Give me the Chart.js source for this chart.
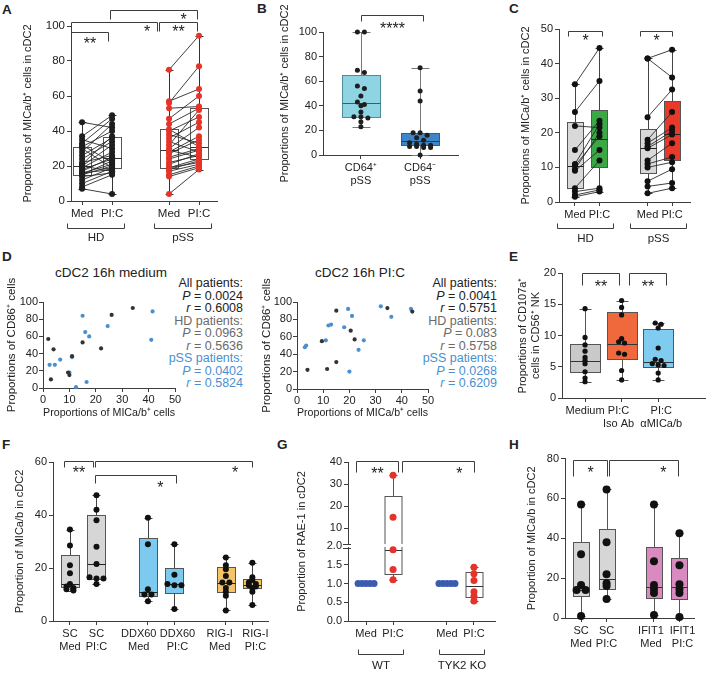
<!DOCTYPE html>
<html>
<head>
<meta charset="utf-8">
<title>MICa/b on cDC2</title>
<script src="https://cdn.jsdelivr.net/npm/chart.js@4.4.1/dist/chart.umd.min.js"></script>
<style>
  body { margin: 0; width: 709px; height: 673px; position: relative; overflow: hidden; background: #fff;
         font-family: 'Liberation Sans', Arial, Helvetica, sans-serif; color: #222; }
  .tag { position: absolute; font-weight: bold; font-size: 13.5px; line-height: 13.5px; }
  .ttl { position: absolute; font-size: 13.5px; line-height: 13.5px; text-align: center; width: 200px; }
  .stats { position: absolute; font-size: 12.5px; line-height: 12.5px; text-align: right; white-space: nowrap; }
  .stats .hd { color: #6a6a6a; }
  .stats .pss { color: #4a90d0; }
</style>
</head>
<body>
<div class="tag" style="left:2px;top:3px">A</div>
<div class="tag" style="left:257px;top:2px">B</div>
<div class="tag" style="left:509px;top:2px">C</div>
<div class="tag" style="left:2px;top:250px">D</div>
<div class="tag" style="left:509px;top:250px">E</div>
<div class="tag" style="left:2px;top:438px">F</div>
<div class="tag" style="left:277px;top:438px">G</div>
<div class="tag" style="left:509px;top:438px">H</div>
<div class="ttl" style="left:11px;top:266px">cDC2 16h medium</div>
<div class="ttl" style="left:260px;top:266px">cDC2 16h PI:C</div>
<div class="stats" id="statsMed" style="right:466px;top:277px"></div>
<div class="stats" id="statsPic" style="right:212px;top:277px"></div>
<script>
const FONT = "'Liberation Sans', Arial, Helvetica, sans-serif";
const AX = '#3d3d3d';
const RED = '#e5332a';

// ---- A: paired Med / PI:C, HD and pSS ----
const catsA = ['Med', 'PI:C', 'Med', 'PI:C'];
const groupsA = ['HD', 'pSS'];
const hdMedA = [45, 37, 35, 33, 32, 31, 30, 28, 26, 24, 22, 21, 20, 20, 19, 18, 17, 16, 16, 15, 15, 14, 12, 10, 8, 7];
const hdPicA = [42, 49, 30, 47, 22, 40, 19, 44, 36, 34, 26, 37, 17, 32, 28, 24, 25, 21, 18, 23, 20, 16, 19, 17, 15, 4];
const pssMedA = [75, 57, 56, 53, 47, 44, 41, 40, 38, 36, 34, 32, 30, 29, 28, 27, 25, 24, 22, 21, 19, 19, 18, 17, 15, 14, 4];
const pssPicA = [94.5, 64, 77, 54, 60, 53, 31, 48, 33, 45, 28, 52, 42, 25, 37, 35, 30, 29, 26, 27, 24, 22, 23, 21, 20, 19, 18];
const boxA = [[7, 15, 20, 31, 45], [4, 19, 24.5, 36.5, 49], [4, 19, 29, 41, 75], [18, 24, 31, 53, 94.5]];

// ---- B: CD64+ vs CD64- ----
const catsB = [['CD64\u207A', 'pSS'], ['CD64\u207B', 'pSS']];
const cd64posB = [100, 100, 69, 67, 56, 54, 48, 43, 41, 40, 35, 31, 30, 31, 27, 23];
const cd64negB = [71, 52, 44, 18, 18, 16, 14, 12, 10, 9, 8, 8, 7, 7, 6, 6, 0];
const boxB = [[23, 31, 42, 65, 100], [0, 8, 11, 18, 71]];

// ---- C: paired, HD and pSS ----
const catsC = ['Med', 'PI:C', 'Med', 'PI:C'];
const groupsC = ['HD', 'pSS'];
const hdMedC = [34, 26, 22, 15, 11, 10.5, 9.5, 9, 4, 3, 2, 1.5];
const hdPicC = [44.5, 35, 21.5, 23.5, 22.5, 19, 20, 15, 12, 4, 3.5, 3];
const pssMedC = [41.5, 41.5, 24.5, 18, 17, 16, 15.5, 12, 11, 10, 6, 4.5, 2.5];
const pssPicC = [36, 44, 32.5, 26, 21.5, 20.5, 19.5, 17, 13, 11.5, 9.5, 5.5, 4];
const boxC = [[1.5, 4, 10.5, 23.2, 34], [3, 10, 18.3, 26.5, 44.5], [2.5, 8.5, 15.5, 21, 41.5], [4, 12, 19.7, 29.3, 44]];

// ---- D: CD86 vs MICa/b scatter ----
const hdMediumD = [[2, 57], [4, 45], [3, 10], [9.5, 18], [10, 15], [11, 37], [15, 53], [22, 46], [26, 85], [34, 93]];
const pssMediumD = [[2.5, 27], [4.5, 27], [6.5, 33], [10, 18], [11, 36], [12.5, 1], [15, 84], [16, 65], [16.5, 7], [17.5, 60], [24.5, 72], [41, 56], [41.5, 89]];
const hdPicD = [[4, 22], [9.5, 55], [11.5, 23], [15, 90], [15, 31], [20.5, 67], [22, 57], [34.5, 93], [44, 89]];
const pssPicD = [[3, 48], [3.5, 50], [11, 56], [12, 73], [13, 74], [18, 71], [19.5, 92], [20, 20], [21, 84], [23.5, 45], [25.5, 56], [32, 95], [36, 83], [43.5, 92]];
const statsMedium = [['All patients:', '0.0024', '0.6008'], ['HD patients:', '0.0963', '0.5636'], ['pSS patients:', '0.0402', '0.5824']];
const statsPIC = [['All patients:', '0.0041', '0.5751'], ['HD patients:', '0.083', '0.5758'], ['pSS patients:', '0.0268', '0.6209']];

// ---- E: CD107a on NK ----
const catsE = ['Medium', ['PI:C', 'Iso Ab'], ['PI:C', '\u03B1MICa/b']];
const mediumE = [14.3, 9.7, 8.5, 7.5, 6.5, 6, 5.5, 4.2, 3.2, 2.6];
const isoE = [15.6, 14.5, 13.3, 9.5, 9, 8.8, 7.2, 7, 4.4, 2.9];
const antiMicaE = [12, 11.8, 11.2, 8, 6.2, 6, 5.5, 5.3, 5.2, 4, 2.9];
const boxE = [[2.6, 4.1, 5.9, 8.6, 14.3], [2.9, 6.2, 8.7, 13.7, 15.6], [2.9, 4.9, 5.8, 11, 12]];

// ---- F: knock-downs ----
const catsF = [['SC', 'Med'], ['SC', 'PI:C'], ['DDX60', 'Med'], ['DDX60', 'PI:C'], ['RIG-I', 'Med'], ['RIG-I', 'PI:C']];
const ptsF = [
  [34.5, 28.5, 21, 18, 14, 13, 12.5, 12, 11.5],
  [47.5, 42, 38, 28, 21.5, 16.5, 16, 16, 14],
  [39, 29, 12, 10, 10, 7.5],
  [29, 17.5, 14, 13.5, 13.5, 4.5],
  [24, 21, 19.5, 17, 14.5, 14.5, 12.5, 11, 9.5, 4],
  [22, 16.5, 15.5, 14.5, 14, 13.5, 13, 12.5, 11, 6]
];
const boxF = [[11.5, 13, 14, 25, 34.5], [14, 16, 21.5, 40, 47.5], [7.5, 9.5, 11, 31.5, 39], [4.5, 10.5, 14, 20, 29], [4, 11, 14.5, 20.5, 24], [6, 12.5, 13.5, 16, 22]];

// ---- G: RAE-1, WT vs TYK2 KO (broken axis) ----
const catsG = ['Med', 'PI:C', 'Med', 'PI:C'];
const groupsG = ['WT', 'TYK2 KO'];
const ptsG = [[1, 1, 1, 1, 1], [34, 15, 1.9, 1.37, 1.1], [1, 1, 1, 1, 1], [1.43, 1.26, 1.08, 0.78, 0.66, 0.53]];
const boxG = [null, [1.1, 1.25, 1.9, 24.5, 34], null, [0.53, 0.65, 0.93, 1.3, 1.43]];
const ticksG = [0, 0.5, 1, 1.5, 2, 10, 20, 30, 40];

// ---- H: IFIT1 ----
const catsH = [['SC', 'Med'], ['SC', 'PI:C'], ['IFIT1', 'Med'], ['IFIT1', 'PI:C']];
const ptsH = [[57, 32, 16.5, 14, 14, 1], [64.5, 38, 22, 17.5, 16, 9.5], [57, 28.5, 16.5, 14.5, 12.5, 1.5], [42.5, 26.5, 17, 14.5, 12.5, 0.5]];
const boxH = [[1, 11, 14, 38, 57], [9.5, 14.5, 19.5, 44.5, 64.5], [1.5, 10, 15.5, 35.5, 57], [0.5, 9.5, 15.5, 30, 42.5]];

Chart.defaults.font.family = FONT;
Chart.defaults.font.size = 11;
Chart.defaults.color = '#222';

class BrokenScale extends Chart.LinearScale {
  getPixelForValue(value) {
    const b = this.options.breakAt, f = this.options.breakFrac;
    const t = value <= b ? (value - this.min) / (b - this.min) * f
                         : f + (value - b) / (this.max - b) * (1 - f);
    return this.getPixelForDecimal(t);
  }
  getValueForPixel(pixel) {
    const b = this.options.breakAt, f = this.options.breakFrac;
    const t = this.getDecimalForPixel(pixel);
    return t <= f ? this.min + t / f * (b - this.min) : b + (t - f) / (1 - f) * (this.max - b);
  }
}
BrokenScale.id = 'broken';
BrokenScale.defaults = Chart.LinearScale.defaults;
Chart.register(BrokenScale);

function mount(rect, pad) {
  const [L, T, R, B] = rect, [pl, pt, pr, pb] = pad;
  const cv = document.createElement('canvas');
  cv.width = R - L + pl + pr;
  cv.height = B - T + pt + pb;
  cv.style.cssText = `position:absolute;left:${L - pl}px;top:${T - pt}px`;
  document.body.appendChild(cv);
  return cv;
}

// spread points with (nearly) equal values side by side, at most maxN in a row
function dodge(vals, tol, step, maxN) {
  const idx = vals.map((v, i) => i).sort((a, b) => vals[b] - vals[a]);
  const off = vals.map(() => 0);
  let g = [idx[0]];
  const flush = () => g.forEach((k, j) => { off[k] = (j - (g.length - 1) / 2) * step; });
  for (let j = 1; j < idx.length; j++) {
    if (vals[g[0]] - vals[idx[j]] < tol && g.length < maxN) g.push(idx[j]);
    else { flush(); g = [idx[j]]; }
  }
  flush();
  return off;
}

// pad a tick label with figure spaces to nudge it sideways (n<0: left, n>0: right)
function nudge(label, n) {
  if (!n) return label;
  const sp = '\u2007'.repeat(Math.abs(n));
  const f = s => (n < 0 ? s + sp : sp + s);
  return Array.isArray(label) ? label.map(f) : f(label);
}

const px = v => Math.round(v) + 0.5;

function panelPlugin(c) {
  return {
    id: 'panel',
    beforeDatasetsDraw(chart) {
      const {ctx} = chart, xs = chart.scales.x, ys = chart.scales.y;
      c.boxes.forEach((b, i) => {
        if (!b) return;
        const cx = px(xs.getPixelForValue(c.pos[i]));
        const [pMin, pQ1, pMed, pQ3, pMax] = b.map(v => px(ys.getPixelForValue(v)));
        const hw = c.boxW / 2, hc = c.capW / 2;
        ctx.save();
        ctx.lineWidth = 1;
        ctx.strokeStyle = c.whisker;
        ctx.beginPath();
        ctx.moveTo(cx, pMin); ctx.lineTo(cx, pQ1);
        ctx.moveTo(cx, pQ3); ctx.lineTo(cx, pMax);
        ctx.moveTo(cx - hc, pMin); ctx.lineTo(cx + hc, pMin);
        ctx.moveTo(cx - hc, pMax); ctx.lineTo(cx + hc, pMax);
        ctx.stroke();
        ctx.fillStyle = c.fills[i];
        ctx.fillRect(cx - hw, pQ3, 2 * hw, pQ1 - pQ3);
        ctx.strokeStyle = Array.isArray(c.borders) ? c.borders[i] : c.borders;
        ctx.strokeRect(cx - hw, pQ3, 2 * hw, pQ1 - pQ3);
        ctx.strokeStyle = Array.isArray(c.median) ? c.median[i] : c.median;
        ctx.beginPath(); ctx.moveTo(cx - hw, pMed); ctx.lineTo(cx + hw, pMed); ctx.stroke();
        if (c.breakAt != null && b[1] < c.breakAt && b[3] > c.breakAt) {
          const yb = ys.getPixelForValue(c.breakAt);
          ctx.fillStyle = '#fff';
          ctx.fillRect(cx - hw - 1, yb - 2, 2 * hw + 2, 3);
        }
        ctx.restore();
      });
    },
    afterDraw(chart) {
      const {ctx, chartArea} = chart, xs = chart.scales.x, ys = chart.scales.y;
      ctx.save();
      ctx.strokeStyle = AX; ctx.fillStyle = '#222'; ctx.lineWidth = 1;
      // significance brackets
      ctx.font = `16px ${FONT}`; ctx.textAlign = 'center'; ctx.textBaseline = 'alphabetic';
      (c.sig || []).forEach(s => {
        const x1 = px(xs.getPixelForValue(s.x1)), x2 = px(xs.getPixelForValue(s.x2)), y = px(ys.getPixelForValue(s.y));
        ctx.beginPath();
        ctx.moveTo(x1, y + s.leg); ctx.lineTo(x1, y); ctx.lineTo(x2, y); ctx.lineTo(x2, y + s.leg);
        ctx.stroke();
        const f = s.f == null ? 0.5 : s.f;
        ctx.fillText(s.t, x1 + f * (x2 - x1), y + s.dy + 9);
      });
      // group brackets under the axis
      ctx.font = `11.5px ${FONT}`; ctx.textBaseline = 'middle';
      (c.groups || []).forEach(g => {
        const x1 = px(xs.getPixelForValue(c.pos[g.a]) - c.groupPad[0]);
        const x2 = px(xs.getPixelForValue(c.pos[g.b]) + c.groupPad[1]);
        const y = px(chartArea.bottom + c.groupY);
        ctx.beginPath();
        ctx.moveTo(x1, y - 5); ctx.lineTo(x1, y); ctx.lineTo(x2, y); ctx.lineTo(x2, y - 5);
        ctx.stroke();
        ctx.fillText(g.t, (x1 + x2) / 2, y + c.groupDy);
      });
      // axis break mark
      if (c.breakAt != null) {
        const yb = Math.round(ys.getPixelForValue(c.breakAt));
        const ax = Math.round(chartArea.left);
        ctx.fillStyle = '#fff';
        ctx.fillRect(ax - 6, yb - 1, 8, 2);
        ctx.beginPath();
        ctx.moveTo(ax - 5, yb - 1.5); ctx.lineTo(ax + 3, yb - 1.5);
        ctx.moveTo(ax - 5, yb + 2.5); ctx.lineTo(ax + 3, yb + 2.5);
        ctx.stroke();
      }
      ctx.restore();
    }
  };
}

function baseOptions(c, xScale, yScale) {
  return {
    responsive: false, animation: false, events: [],
    layout: {padding: {left: 0, top: c.pad[1], right: c.pad[2], bottom: 0}},
    plugins: {legend: {display: false}, tooltip: {enabled: false}},
    scales: {x: xScale, y: yScale}
  };
}

function yAxis(c) {
  const y = {
    type: c.yType || 'linear', min: c.yMin, max: c.yMax,
    afterFit: s => { s.width = c.pad[0]; },
    ticks: {font: {size: c.tickSize || 11}, color: '#222', padding: 2},
    title: {display: true, text: c.yTitle, padding: 0, font: {size: 11}, color: '#222'},
    grid: {drawOnChartArea: false, tickLength: 4, color: AX},
    border: {color: AX}
  };
  if (c.yStep) y.ticks.stepSize = c.yStep;
  if (c.yTicks) {
    y.afterBuildTicks = s => { s.ticks = c.yTicks.map(v => ({value: v})); };
    y.ticks.callback = v => (v <= c.breakAt ? v.toFixed(1) : String(v));
    y.breakAt = c.breakAt;
    y.breakFrac = c.breakFrac;
  }
  return y;
}

function boxChart(c) {
  const cv = mount(c.rect, c.pad);
  const [L, , R] = c.rect;
  const unitPx = (R - L) / (c.xMax - c.xMin);
  const datasets = [];
  c.pts.forEach((vals, i) => {
    const off = c.dodgeTol ? dodge(vals, c.dodgeTol, c.dodgePx / unitPx, c.maxN || 3) : vals.map(() => 0);
    datasets.push({
      data: vals.map((v, k) => ({x: c.pos[i] + off[k], y: v})),
      backgroundColor: c.ptColors[i], borderWidth: 0, pointRadius: c.r, clip: false, order: 0
    });
  });
  (c.pairs || []).forEach(([a, b]) => {
    c.pts[a].forEach((v, k) => {
      datasets.push({
        data: [{x: c.pos[a], y: v}, {x: c.pos[b], y: c.pts[b][k]}],
        showLine: true, borderColor: c.lineColor, borderWidth: 0.9, pointRadius: 0, clip: false, order: 1
      });
    });
  });
  const xScale = {
    type: 'linear', min: c.xMin, max: c.xMax,
    afterBuildTicks: s => { s.ticks = c.pos.map(v => ({value: v})); },
    afterFit: s => { s.height = c.pad[3]; },
    ticks: {autoSkip: false, maxRotation: 0, padding: 2, font: {size: c.tickSize || 11}, color: '#222',
            callback: (v, i) => nudge(c.cats[i], c.shift ? c.shift[i] : 0)},
    grid: {drawOnChartArea: false, tickLength: 4, color: AX},
    border: {color: AX}
  };
  new Chart(cv, {
    type: 'scatter',
    data: {datasets},
    options: baseOptions(c, xScale, yAxis(c)),
    plugins: [panelPlugin(c)]
  });
}

function scatterChart(c) {
  const cv = mount(c.rect, c.pad);
  const toXY = arr => arr.map(([x, y]) => ({x, y}));
  const xScale = {
    type: 'linear', min: 0, max: 50,
    afterFit: s => { s.height = c.pad[3]; },
    ticks: {stepSize: 10, padding: 1, color: '#222'},
    title: {display: true, text: 'Proportions of MICa/b\u207A cells', padding: 0, font: {size: 11.5}, color: '#222'},
    grid: {drawOnChartArea: false, tickLength: 4, color: AX},
    border: {color: AX}
  };
  const yScale = {
    type: 'linear', min: 0, max: 100,
    afterFit: s => { s.width = c.pad[0]; },
    ticks: {stepSize: 20, padding: 1, color: '#222'},
    title: {display: true, text: 'Proportions of CD86\u207A cells', padding: 0, font: {size: 11.5}, color: '#222'},
    grid: {drawOnChartArea: false, tickLength: 4, color: AX},
    border: {color: AX}
  };
  new Chart(cv, {
    type: 'scatter',
    data: {datasets: [
      {data: toXY(c.hd), backgroundColor: '#333', borderWidth: 0, pointRadius: 2.1, clip: false},
      {data: toXY(c.pss), backgroundColor: '#4a90d0', borderWidth: 0, pointRadius: 2.1, clip: false}
    ]},
    options: baseOptions(c, xScale, yScale)
  });
}

function statsBlock(id, rows) {
  const cls = ['', 'hd', 'pss'];
  document.getElementById(id).innerHTML = rows.map((r, i) =>
    `<div class="${cls[i]}">${r[0]}</div><div class="${cls[i]}"><i>P</i> = ${r[1]}</div><div class="${cls[i]}"><i>r</i> = ${r[2]}</div>`
  ).join('');
}

// A
boxChart({
  rect: [71, 26, 217, 201], pad: [50, 26, 4, 50], tickSize: 11.5,
  xMin: -0.37, xMax: 4.5, pos: [0, 1, 2.9, 3.9], cats: catsA,
  yMin: 0, yMax: 100, yStep: 20, yTitle: 'Proportions of MICa/b\u207A cells in cDC2',
  boxes: boxA, fills: ['rgba(0,0,0,0)', 'rgba(0,0,0,0)', 'rgba(0,0,0,0)', 'rgba(0,0,0,0)'],
  borders: '#555', whisker: '#333', median: '#333', boxW: 18, capW: 8,
  pts: [hdMedA, hdPicA, pssMedA, pssPicA], ptColors: ['#1e1e1e', '#1e1e1e', RED, RED], r: 3,
  pairs: [[0, 1], [2, 3]], lineColor: '#2a2a2a',
  sig: [
    {t: '**', x1: -0.37, x2: 0.87, y: 96.6, leg: 9, dy: 7},
    {t: '*', x1: -0.37, x2: 2.5, y: 102.3, leg: 9, dy: 5, f: 0.88},
    {t: '**', x1: 2.57, x2: 3.83, y: 102.3, leg: 9, dy: 5},
    {t: '*', x1: 0.93, x2: 3.83, y: 109, leg: 9, dy: 5, f: 0.84}
  ],
  groups: [{a: 0, b: 1, t: groupsA[0]}, {a: 2, b: 3, t: groupsA[1]}], groupY: 27, groupPad: [15, 12], groupDy: 9
});

// B
boxChart({
  rect: [323, 32, 458, 155], pad: [45, 32, 4, 40],
  xMin: -0.64, xMax: 1.64, pos: [0, 1], cats: catsB,
  yMin: 0, yMax: 100, yStep: 20, yTitle: 'Proportions of MICa/b\u207A cells in cDC2',
  boxes: boxB, fills: ['#8fd4e3', '#3f86c8'], borders: ['#4d8d9b', '#2f5f8e'], whisker: '#777',
  median: ['#2d6372', '#1d3f63'], boxW: 38, capW: 18,
  pts: [cd64posB, cd64negB], ptColors: ['#1e1e1e', '#1e1e1e'], r: 2.5, dodgeTol: 2.5, dodgePx: 7, maxN: 5,
  sig: [{t: '****', x1: 0, x2: 1.05, y: 113.8, leg: 6, dy: 9}]
});

// C
boxChart({
  rect: [559, 29, 690, 202], pad: [40, 29, 10, 45],
  xMin: -0.65, xMax: 4.69, pos: [0, 1, 2.96, 3.96], cats: catsC,
  yMin: 0, yMax: 50, yStep: 10, yTitle: 'Proportions of MICa/b\u207A cells in cDC2',
  boxes: boxC, fills: ['#d9d9d9', '#3aa845', '#d9d9d9', '#e8392b'], borders: '#555', whisker: '#444',
  median: '#222', boxW: 16, capW: 8,
  pts: [hdMedC, hdPicC, pssMedC, pssPicC], ptColors: ['#111', '#111', '#111', '#111'], r: 3,
  pairs: [[0, 1], [2, 3]], lineColor: '#2a2a2a',
  sig: [
    {t: '*', x1: -0.29, x2: 1.1, y: 49.4, leg: 5, dy: 5},
    {t: '*', x1: 2.65, x2: 3.96, y: 49.4, leg: 5, dy: 5}
  ],
  groups: [{a: 0, b: 1, t: groupsC[0]}, {a: 2, b: 3, t: groupsC[1]}], groupY: 26, groupPad: [18, 14], groupDy: 10
});

// D
scatterChart({rect: [43, 302, 175, 388], pad: [38, 30, 8, 32], hd: hdMediumD, pss: pssMediumD});
scatterChart({rect: [297, 302, 428, 389], pad: [37, 30, 8, 31], hd: hdPicD, pss: pssPicD});
statsBlock('statsMed', statsMedium);
statsBlock('statsPic', statsPIC);

// E
boxChart({
  rect: [562, 273, 708, 398], pad: [46, 10, 1, 35],
  xMin: -0.63, xMax: 3.28, pos: [0, 1, 2], cats: catsE, shift: [0, -1, 1],
  yMin: 0, yMax: 20, yStep: 5, yTitle: ['Proportions of CD107a\u207A', 'cells in CD56\u207A NK'],
  boxes: boxE, fills: ['#c9c9c9', '#f0693d', '#80ccf0'], borders: '#555', whisker: '#555',
  median: '#333', boxW: 30, capW: 12,
  pts: [mediumE, isoE, antiMicaE], ptColors: ['#111', '#111', '#111'], r: 2.6, dodgeTol: 0.4, dodgePx: 6, maxN: 3,
  sig: [
    {t: '**', x1: -0.09, x2: 0.92, y: 20, leg: 12, dy: 9},
    {t: '**', x1: 1.21, x2: 2.22, y: 20, leg: 12, dy: 9}
  ]
});

// F
boxChart({
  rect: [53, 462, 268, 621], pad: [40, 10, 4, 32],
  xMin: -0.64, xMax: 7.47, pos: [0, 1, 2.94, 3.94, 5.88, 6.88], cats: catsF, shift: [0, 0, -3, 1, -2, 1],
  yMin: 0, yMax: 60, yStep: 20, yTitle: 'Proportion of MICa/b in cDC2',
  boxes: boxF, fills: ['#d6d6d6', '#d6d6d6', '#7ccaef', '#7ccaef', '#f5c469', '#f5c469'], borders: '#555',
  whisker: '#444', median: '#222', boxW: 18, capW: 8,
  pts: ptsF, ptColors: ptsF.map(() => '#111'), r: 3, dodgeTol: 1.0, dodgePx: 7, maxN: 5,
  sig: [
    {t: '**', x1: -0.23, x2: 0.87, y: 60.4, leg: 6, dy: 7},
    {t: '*', x1: 0.94, x2: 6.87, y: 60.4, leg: 6, dy: 7, f: 0.89},
    {t: '*', x1: 0.94, x2: 4.0, y: 55.1, leg: 8, dy: 8, f: 0.8}
  ]
});

// G
boxChart({
  rect: [348, 462, 495, 621], pad: [53, 10, 4, 50],
  xMin: -0.67, xMax: 4.78, pos: [0, 1, 3, 4], cats: catsG,
  yType: 'broken', yMin: 0, yMax: 40, yTicks: ticksG, breakAt: 2, breakFrac: 0.472,
  yTitle: 'Proportion of RAE-1 in cDC2',
  boxes: boxG, fills: ['#fff', '#fff', '#fff', '#fff'], borders: '#555', whisker: '#555', median: '#333',
  boxW: 17, capW: 8,
  pts: ptsG, ptColors: ['#3b5bb0', RED, '#3b5bb0', RED], r: 3.5, dodgeTol: 0.05, dodgePx: 4, maxN: 5,
  sig: [
    {t: '**', x1: -0.37, x2: 1.19, y: 40.45, leg: 11, dy: 8},
    {t: '*', x1: 1.33, x2: 4, y: 40.45, leg: 11, dy: 8, f: 0.79}
  ],
  groups: [{a: 0, b: 1, t: groupsG[0]}, {a: 2, b: 3, t: groupsG[1]}], groupY: 33, groupPad: [8, 10], groupDy: 11
});

// H
boxChart({
  rect: [565, 458, 694, 618], pad: [40, 8, 4, 32],
  xMin: -0.63, xMax: 4.43, pos: [0, 1, 2.86, 3.86], cats: catsH, shift: [0, 0, -1, 1],
  yMin: 0, yMax: 80, yStep: 20, yTitle: 'Proportion of MICa/b in cDC2',
  boxes: boxH, fills: ['#d6d6d6', '#d6d6d6', '#d98bc0', '#d98bc0'], borders: '#555', whisker: '#555',
  median: '#333', boxW: 16, capW: 8,
  pts: ptsH, ptColors: ptsH.map(() => '#111'), r: 4, dodgeTol: 1.5, dodgePx: 9, maxN: 3,
  sig: [
    {t: '*', x1: -0.31, x2: 1.02, y: 79.5, leg: 16, dy: 8},
    {t: '*', x1: 1.1, x2: 3.8, y: 79.5, leg: 16, dy: 8, f: 0.78}
  ]
});
</script>
</body>
</html>
